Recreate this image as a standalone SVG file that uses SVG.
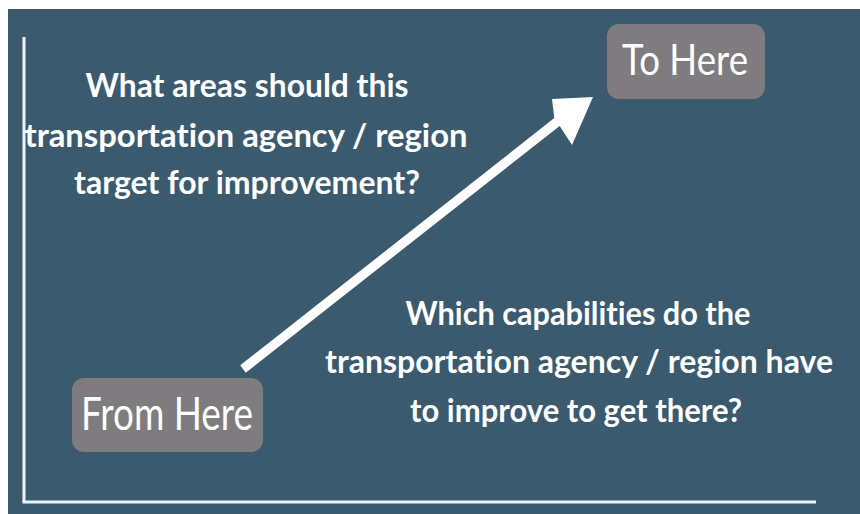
<svg xmlns="http://www.w3.org/2000/svg" width="860" height="514" viewBox="0 0 860 514">
  <style>
    .panel { fill: #3b5a6e; }
    .axis { stroke: #eef3f6; stroke-width: 3; fill: none; }
    .box { fill: #7f7c80; }
    .label { font-family: Lato, "Open Sans", "Liberation Sans", sans-serif; fill: #ffffff; text-anchor: middle; font-variant-ligatures: none; }
    .q { font-family: Lato, "Open Sans", "Liberation Sans", sans-serif; font-weight: bold; font-size: 33px; fill: #ffffff; text-anchor: middle; font-variant-ligatures: none; }
    .arrow { fill: #ffffff; }
  </style>

  <!-- page background and slide panel -->
  <rect x="0" y="0" width="860" height="514" fill="#ffffff"/>
  <rect class="panel" x="8" y="9" width="852" height="505"/>

  <!-- axes -->
  <g id="axes">
    <line class="axis" x1="24" y1="37" x2="24" y2="502"/>
    <line class="axis" x1="22.5" y1="502" x2="816" y2="502"/>
  </g>

  <!-- connector: rising arrow from start to goal -->
  <g id="connectors">
    <polygon class="arrow" points="240.3,365.2 245.7,372.8 559.7,125.9 572,145 593,97 552,99 554.3,118.1"/>
  </g>

  <g id="node-from-here">
    <rect class="box" x="72" y="378" width="191" height="74" rx="12" ry="12"/>
    <text class="label" x="167" y="430" font-size="46" textLength="172" lengthAdjust="spacingAndGlyphs">From Here</text>
  </g>

  <g id="node-to-here">
    <rect class="box" x="607" y="24" width="158" height="75" rx="12" ry="12"/>
    <text class="label" x="685" y="75" font-size="42" textLength="126" lengthAdjust="spacingAndGlyphs">To Here</text>
  </g>

  <g id="question-targets">
    <text class="q" x="247" y="97" textLength="323" lengthAdjust="spacingAndGlyphs">What areas should this</text>
    <text class="q" x="246" y="147" textLength="443" lengthAdjust="spacingAndGlyphs">transportation agency / region</text>
    <text class="q" x="247" y="194" textLength="346" lengthAdjust="spacingAndGlyphs">target for improvement?</text>
  </g>

  <g id="question-capabilities">
    <text class="q" x="578" y="325" textLength="345" lengthAdjust="spacingAndGlyphs">Which capabilities do the</text>
    <text class="q" x="579" y="373" textLength="508" lengthAdjust="spacingAndGlyphs">transportation agency / region have</text>
    <text class="q" x="576" y="422" textLength="332" lengthAdjust="spacingAndGlyphs">to improve to get there?</text>
  </g>
</svg>
